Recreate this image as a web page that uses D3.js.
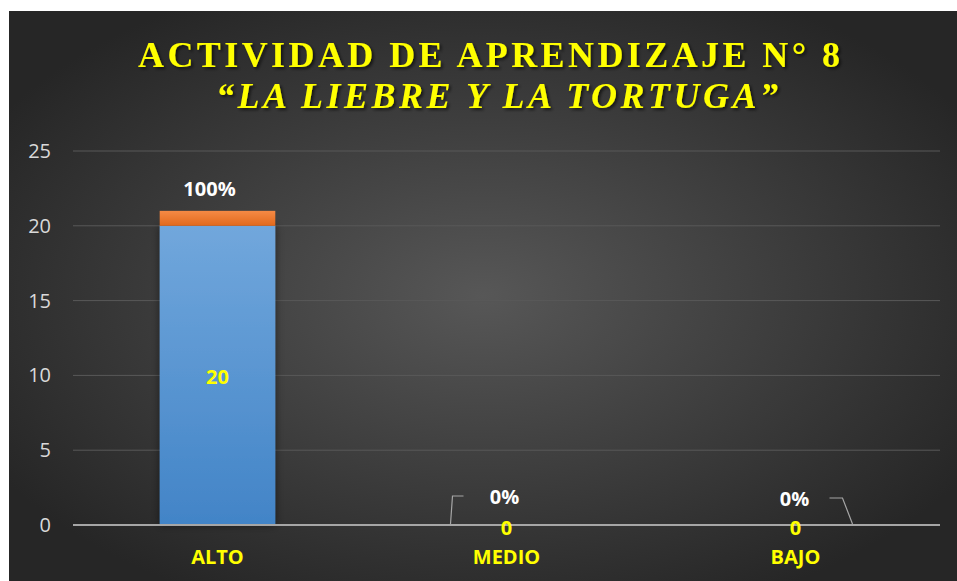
<!DOCTYPE html>
<html>
<head>
<meta charset="utf-8">
<script src="https://cdn.jsdelivr.net/npm/d3@7"></script>
<style>
  body { margin: 0; background: #fff; }
  svg { display: block; }
</style>
</head>
<body>
<div id="chart"></div>
<script>
var categories = ["ALTO", "MEDIO", "BAJO"];
var counts = [20, 0, 0];
var shares = [1, 0, 0];
var shareLabels = ["100%", "0%", "0%"];
var yTicks = [0, 5, 10, 15, 20, 25];

var W = 957, H = 581;
var margin = {left: 73, right: 17, top: 151, bottom: 56};

var svg = d3.select("#chart").append("svg")
    .attr("width", W)
    .attr("height", H);

var defs = svg.append("defs");
var bg = defs.append("radialGradient").attr("id", "bg")
    .attr("cx", "50%").attr("cy", "50%").attr("r", "60%");
bg.append("stop").attr("offset", "0%").attr("stop-color", "#575757");
bg.append("stop").attr("offset", "100%").attr("stop-color", "#262626");

var blue = defs.append("linearGradient").attr("id", "blue")
    .attr("x1", 0).attr("y1", 0).attr("x2", 0).attr("y2", 1);
blue.append("stop").attr("offset", "0%").attr("stop-color", "#71a7dc");
blue.append("stop").attr("offset", "100%").attr("stop-color", "#4284c7");

var orange = defs.append("linearGradient").attr("id", "orange")
    .attr("x1", 0).attr("y1", 0).attr("x2", 0).attr("y2", 1);
orange.append("stop").attr("offset", "0%").attr("stop-color", "#f58a45");
orange.append("stop").attr("offset", "100%").attr("stop-color", "#e2691c");

var shadow = defs.append("filter").attr("id", "shadow")
    .attr("x", "-10%").attr("y", "-10%").attr("width", "130%").attr("height", "130%");
shadow.append("feDropShadow").attr("dx", 2).attr("dy", 2)
    .attr("stdDeviation", 1.5).attr("flood-color", "#000").attr("flood-opacity", 0.6);

var barShadow = defs.append("filter").attr("id", "barShadow")
    .attr("x", "-20%").attr("y", "-5%").attr("width", "140%").attr("height", "115%");
barShadow.append("feDropShadow").attr("dx", 0).attr("dy", 0)
    .attr("stdDeviation", 4).attr("flood-color", "#000").attr("flood-opacity", 0.5);

// background panel
svg.append("rect")
    .attr("x", 9).attr("y", 11)
    .attr("width", W - 9).attr("height", H - 11)
    .attr("fill", "url(#bg)");

// title
svg.append("text")
    .attr("x", 489).attr("y", 67)
    .attr("text-anchor", "middle")
    .attr("textLength", 702).attr("lengthAdjust", "spacing")
    .style("font-family", "'Liberation Serif', 'Times New Roman', serif")
    .style("font-weight", "bold")
    .style("font-size", "36px")
    .style("fill", "#ffff00")
    .attr("filter", "url(#shadow)")
    .text("ACTIVIDAD DE APRENDIZAJE N° 8");

svg.append("text")
    .attr("x", 497).attr("y", 108)
    .attr("text-anchor", "middle")
    .attr("textLength", 562).attr("lengthAdjust", "spacing")
    .style("font-family", "'Liberation Serif', 'Times New Roman', serif")
    .style("font-weight", "bold")
    .style("font-style", "italic")
    .style("font-size", "36px")
    .style("fill", "#ffff00")
    .attr("filter", "url(#shadow)")
    .text("“LA LIEBRE Y LA TORTUGA”");

var x = d3.scaleBand()
    .domain(categories)
    .range([margin.left, W - margin.right])
    .paddingInner(0.6).paddingOuter(0.3);

var y = d3.scaleLinear()
    .domain([0, 25])
    .range([H - margin.bottom, margin.top]);

// gridlines
svg.append("g")
    .selectAll("line")
    .data(yTicks.filter(d => d > 0))
    .enter().append("line")
    .attr("x1", margin.left).attr("x2", W - margin.right)
    .attr("y1", d => y(d)).attr("y2", d => y(d))
    .attr("stroke", "#595959").attr("stroke-width", 1);

// y axis labels
var yAxis = svg.append("g")
    .attr("transform", "translate(" + margin.left + ",0)")
    .call(d3.axisLeft(y).tickValues(yTicks).tickSize(0).tickPadding(22));
yAxis.select(".domain").remove();
yAxis.selectAll("text")
    .style("font-family", "'Open Sans', 'Noto Sans', sans-serif")
    .style("font-size", "20px")
    .style("fill", "#d9d9d9");

// bars
var bars = svg.append("g");
bars.selectAll(".bar-count")
    .data(categories)
    .enter().append("rect")
    .attr("class", "bar-count")
    .attr("x", d => x(d))
    .attr("width", x.bandwidth())
    .attr("y", (d, i) => y(counts[i]))
    .attr("height", (d, i) => y(0) - y(counts[i]))
    .attr("fill", "url(#blue)")
    .attr("filter", "url(#barShadow)");

bars.selectAll(".bar-share")
    .data(categories)
    .enter().append("rect")
    .attr("class", "bar-share")
    .attr("x", d => x(d))
    .attr("width", x.bandwidth())
    .attr("y", (d, i) => y(counts[i] + shares[i]))
    .attr("height", (d, i) => y(counts[i]) - y(counts[i] + shares[i]))
    .attr("fill", "url(#orange)");

// baseline
svg.append("line")
    .attr("x1", margin.left).attr("x2", W - margin.right)
    .attr("y1", y(0)).attr("y2", y(0))
    .attr("stroke", "#a6a6a6").attr("stroke-width", 2);

var labelFont = "'Open Sans', 'Noto Sans', sans-serif";

// x labels
svg.append("g")
    .selectAll("text")
    .data(categories)
    .enter().append("text")
    .attr("x", d => x(d) + x.bandwidth() / 2)
    .attr("y", H - margin.bottom + 39)
    .attr("text-anchor", "middle")
    .style("font-family", labelFont)
    .style("font-weight", "bold")
    .style("font-size", "20px")
    .style("fill", "#ffff00")
    .text(d => d);

// count labels
svg.append("g")
    .selectAll("text")
    .data(categories)
    .enter().append("text")
    .attr("x", d => x(d) + x.bandwidth() / 2)
    .attr("y", (d, i) => counts[i] > 0 ? y(counts[i] / 2) + 9 : y(0) + 10)
    .attr("text-anchor", "middle")
    .style("font-family", labelFont)
    .style("font-weight", "bold")
    .style("font-size", "20px")
    .style("fill", "#ffff00")
    .text((d, i) => counts[i]);

// share labels
var labelPos = [{dx: -8, dy: -15}, {dx: -2, dy: -21}, {dx: -1, dy: -19}];
svg.append("g")
    .selectAll("text")
    .data(categories)
    .enter().append("text")
    .attr("x", (d, i) => x(d) + x.bandwidth() / 2 + labelPos[i].dx)
    .attr("y", (d, i) => y(counts[i] + shares[i]) + labelPos[i].dy)
    .attr("text-anchor", "middle")
    .style("font-family", labelFont)
    .style("font-weight", "bold")
    .style("font-size", "20px")
    .style("fill", "#ffffff")
    .text((d, i) => shareLabels[i]);

// leader lines for the zero labels
var leaders = [
    null,
    [[-56, 0], [-54, -28], [-43, -28]],
    [[57, 0], [47, -26], [34, -26]]
];
var leaderLine = d3.line();
svg.append("g")
    .selectAll("path")
    .data(categories.filter((d, i) => leaders[i]))
    .enter().append("path")
    .attr("d", d => {
        var i = categories.indexOf(d);
        var cx = x(d) + x.bandwidth() / 2, cy = y(0) - 1;
        return leaderLine(leaders[i].map(p => [cx + p[0], cy + p[1]]));
    })
    .attr("fill", "none")
    .attr("stroke", "#a6a6a6")
    .attr("stroke-width", 1.2);
</script>
</body>
</html>
